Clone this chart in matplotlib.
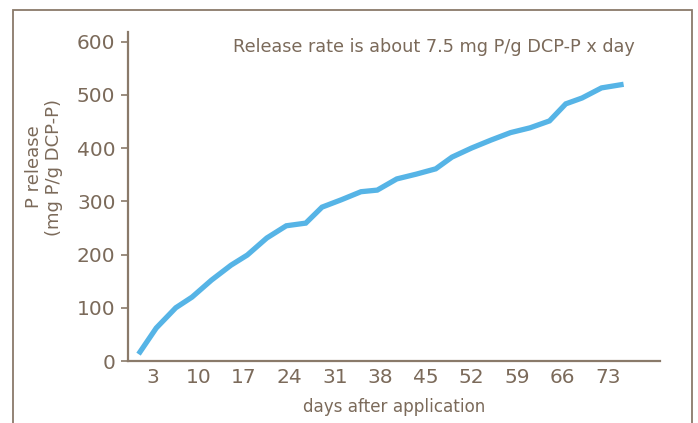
import matplotlib.pyplot as plt
from matplotlib.patches import Rectangle

# days after application and cumulative P release (mg P/g DCP-P)
days = [1, 3.5, 6.5, 9, 12, 15, 17.5, 20.5, 23.5, 26.5, 29, 32, 35, 37.5,
        40.5, 43.5, 46.5, 49, 52, 55, 58, 61, 64, 66.5, 69, 72, 75]
release = [17, 62, 100, 120, 152, 180, 199, 231, 254, 259, 289, 303, 318, 321,
           342, 351, 361, 383, 400, 415, 429, 438, 451, 483, 494, 513, 519]
xticks = [3, 10, 17, 24, 31, 38, 45, 52, 59, 66, 73]
yticks = [0, 100, 200, 300, 400, 500, 600]

txt = '#7b6a5a'
edge = '#8a7a6a'
blue = '#56b4e6'

plt.rcParams['font.family'] = ['DejaVu Sans']

fig = plt.figure(figsize=(6.98, 4.23), dpi=100)
ax = fig.add_axes([128 / 698, 1 - 361 / 423, (660 - 128) / 698, (361 - 32) / 423])

ax.plot(days, release, color=blue, lw=3.8, solid_joinstyle='miter')

ax.set_xlim(-0.85, 81)
ax.set_ylim(0, 618)
ax.set_xticks(xticks)
ax.set_yticks(yticks)
ax.tick_params(axis='x', length=0, pad=5, labelsize=14.5, labelcolor=txt)
ax.tick_params(axis='y', length=5, width=1.2, color=edge, pad=4, labelsize=14.5, labelcolor=txt)

for s in ['top', 'right']:
    ax.spines[s].set_visible(False)
for s in ['left', 'bottom']:
    ax.spines[s].set_color(edge)
    ax.spines[s].set_linewidth(1.6)

ax.set_xlabel('days after application', fontsize=12.1, color=txt, labelpad=8)
fig.text(44 / 698, 1 - 167 / 423, 'P release\n(mg P/g DCP-P)', rotation=90,
         ha='center', va='center', multialignment='center', fontsize=13,
         color=txt, linespacing=1.1)

ax.text(0.575, 0.955, 'Release rate is about 7.5 mg P/g DCP-P x day',
        transform=ax.transAxes, ha='center', va='center', fontsize=12.7, color=txt)

# outer frame, open at the bottom edge of the picture
fig.patches.append(Rectangle((13 / 698, -0.05), (692 - 13) / 698, 1.05 - 10 / 423,
                             transform=fig.transFigure, fill=False,
                             edgecolor=edge, lw=1.3))

fig.savefig('out.png', dpi=100)
